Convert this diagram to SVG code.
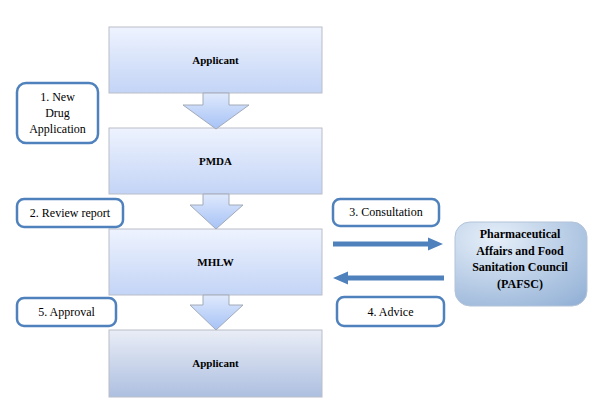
<svg xmlns="http://www.w3.org/2000/svg" width="594" height="400" viewBox="0 0 594 400">
<defs>
<linearGradient id="gBox" x1="0" y1="0" x2="0" y2="1"><stop offset="0" stop-color="#eef3fe"/><stop offset="1" stop-color="#c3d4f6"/></linearGradient>
<linearGradient id="gLast" x1="0" y1="0" x2="0" y2="1"><stop offset="0" stop-color="#e9edf6"/><stop offset="1" stop-color="#adbfe0"/></linearGradient>
<linearGradient id="gArr" x1="0" y1="0" x2="0" y2="1"><stop offset="0" stop-color="#dfe9fc"/><stop offset="1" stop-color="#a6c2f6"/></linearGradient>
<radialGradient id="gPaf" cx="0.3" cy="0.2" r="1"><stop offset="0" stop-color="#e6eff9"/><stop offset="1" stop-color="#93b1d6"/></radialGradient>
<style>
.box{stroke:#b9bec9;stroke-width:1}
.arr{fill:url(#gArr);stroke:#a2aab8;stroke-width:1}
.lbl{fill:#fff;stroke:#4f81bd;stroke-width:2.5}
text{font-family:'Liberation Serif','DejaVu Serif',serif;fill:#000;text-anchor:middle}
.t{font-size:12px}
.b{font-size:11px;font-weight:bold}
.pb{font-size:12px;font-weight:bold}
.link{fill:#4f81bd}
</style>
</defs>
<g id="applicant1"><rect class="box" x="109" y="27" width="213" height="66" fill="url(#gBox)"/><text class="b" x="215.5" y="64">Applicant</text></g>
<g id="pmda"><rect class="box" x="109" y="128" width="213" height="66" fill="url(#gBox)"/><text class="b" x="215.5" y="165">PMDA</text></g>
<g id="mhlw"><rect class="box" x="109" y="229" width="213" height="66" fill="url(#gBox)"/><text class="b" x="215.5" y="266">MHLW</text></g>
<g id="applicant2"><rect class="box" x="109" y="330" width="213" height="67" fill="url(#gLast)"/><text class="b" x="215.5" y="367">Applicant</text></g>
<g id="pafsc"><rect x="455" y="222" width="132" height="84" rx="15" fill="url(#gPaf)" stroke="#b3c3d8" stroke-width="1"/>
<text class="pb" x="520" y="238">Pharmaceutical</text><text class="pb" x="520" y="255">Affairs and Food</text><text class="pb" x="520" y="271">Sanitation Council</text><text class="pb" x="520" y="288">(PAFSC)</text></g>
<g id="label1"><rect class="lbl" x="17" y="83" width="81" height="60" rx="9"/><text class="t" x="57.5" y="101">1. New</text><text class="t" x="57.5" y="117">Drug</text><text class="t" x="57.5" y="133">Application</text></g>
<g id="label2"><rect class="lbl" x="17" y="199" width="106" height="28" rx="7"/><text class="t" x="70" y="217">2. Review report</text></g>
<g id="label3"><rect class="lbl" x="333" y="199" width="106" height="27" rx="7"/><text class="t" x="386" y="216">3. Consultation</text></g>
<g id="label4"><rect class="lbl" x="337" y="297" width="107" height="29" rx="7"/><text class="t" x="390.5" y="316">4. Advice</text></g>
<g id="label5"><rect class="lbl" x="17" y="298" width="99" height="28" rx="7"/><text class="t" x="66.5" y="316">5. Approval</text></g>
<g id="connectors">
<path class="arr" d="M203 93H229V105H249L216 129L183 105H203Z"/>
<path class="arr" d="M203 194H229V205H243L216 229L190 205H203Z"/>
<path class="arr" d="M203 295H229V305H243L216 330L190 305H203Z"/>
<path class="link" d="M333 241.5H428V237.5L443 244L428 250.5V246.5H333Z"/>
<path class="link" d="M444 275.5H348V271.5L333 278L348 284.5V280.5H444Z"/>
</g>
</svg>
